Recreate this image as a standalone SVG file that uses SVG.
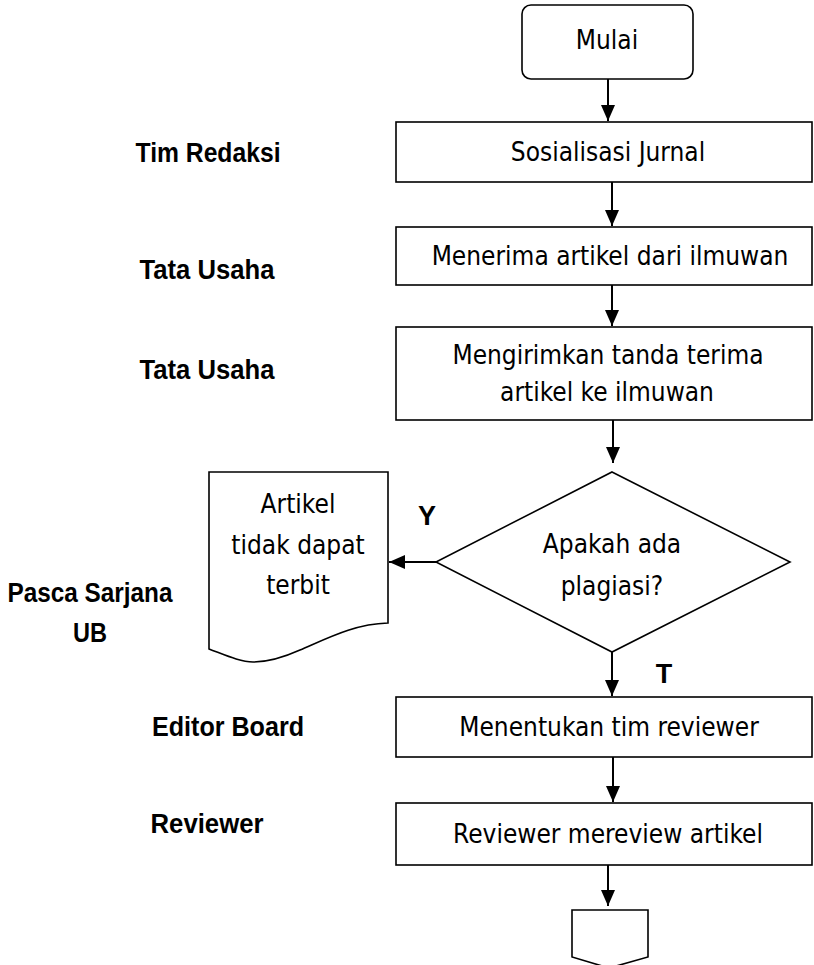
<svg xmlns="http://www.w3.org/2000/svg" width="814" height="965" viewBox="0 0 814 965">
<style>
.shape{fill:#fff;stroke:#000;stroke-width:1.6}
.conn{fill:none;stroke:#000;stroke-width:2}
.t{font-family:"DejaVu Sans Condensed","DejaVu Sans",sans-serif;font-stretch:condensed;font-size:26px;fill:#000;text-anchor:middle}
.lb{font-family:"Liberation Sans Narrow","Liberation Sans",Arial,sans-serif;font-size:27px;font-weight:bold;fill:#000;text-anchor:middle}
</style>
<defs>
<marker id="ah" markerUnits="userSpaceOnUse" markerWidth="16" markerHeight="14" refX="16" refY="7" orient="auto">
<path d="M0,0 L16,7 L0,14 z" fill="#000"/>
</marker>
</defs>
<rect width="814" height="965" fill="#fff"/>
<g id="connectors">
<line class="conn" x1="608" y1="79" x2="608" y2="121" marker-end="url(#ah)"/>
<line class="conn" x1="612" y1="182" x2="612" y2="226" marker-end="url(#ah)"/>
<line class="conn" x1="612" y1="285" x2="612" y2="326" marker-end="url(#ah)"/>
<line class="conn" x1="613" y1="420" x2="613" y2="463" marker-end="url(#ah)"/>
<line class="conn" x1="436" y1="562" x2="389" y2="562" marker-end="url(#ah)"/>
<line class="conn" x1="612" y1="652" x2="612" y2="696" marker-end="url(#ah)"/>
<line class="conn" x1="613" y1="757" x2="613" y2="802" marker-end="url(#ah)"/>
<line class="conn" x1="608" y1="865" x2="608" y2="906" marker-end="url(#ah)"/>
</g>
<g id="mulai">
<rect class="shape" x="522" y="5" width="171" height="74" rx="9"/>
<text class="t" x="607" y="49">Mulai</text>
</g>
<g id="sosialisasi">
<rect class="shape" x="396" y="122" width="416" height="60"/>
<text class="t" x="608" y="161">Sosialisasi Jurnal</text>
</g>
<g id="menerima">
<rect class="shape" x="396" y="227" width="416" height="58"/>
<text class="t" x="610" y="265">Menerima artikel dari ilmuwan</text>
</g>
<g id="mengirimkan">
<rect class="shape" x="396" y="327" width="416" height="93"/>
<text class="t" x="608" y="364">Mengirimkan tanda terima</text>
<text class="t" x="607" y="401">artikel ke ilmuwan</text>
</g>
<g id="plagiasi">
<polygon class="shape" points="612,472 790,562 612,652 436,562"/>
<text class="t" x="612" y="553">Apakah ada</text>
<text class="t" x="612" y="595">plagiasi?</text>
</g>
<g id="tidak-terbit">
<path class="shape" d="M209,472 H388 V623 C355,624 330,637 300,650 C280,659 265,662 253,662 C240,662 225,655 209,649 Z"/>
<text class="t" x="298" y="513">Artikel</text>
<text class="t" x="298" y="554">tidak dapat</text>
<text class="t" x="298" y="594">terbit</text>
</g>
<g id="menentukan">
<rect class="shape" x="396" y="697" width="416" height="60"/>
<text class="t" x="609" y="736">Menentukan tim reviewer</text>
</g>
<g id="mereview">
<rect class="shape" x="396" y="803" width="416" height="62"/>
<text class="t" x="608" y="843">Reviewer mereview artikel</text>
</g>
<g id="offpage">
<polygon class="shape" points="572,910 648,910 648,957 609,968 572,957"/>
</g>
<g id="labels">
<text class="lb" x="208" y="162" textLength="145" lengthAdjust="spacingAndGlyphs">Tim Redaksi</text>
<text class="lb" x="207" y="279" textLength="135" lengthAdjust="spacingAndGlyphs">Tata Usaha</text>
<text class="lb" x="207" y="379" textLength="135" lengthAdjust="spacingAndGlyphs">Tata Usaha</text>
<text class="lb" x="90" y="602" textLength="165" lengthAdjust="spacingAndGlyphs">Pasca Sarjana</text>
<text class="lb" x="90" y="642" textLength="34" lengthAdjust="spacingAndGlyphs">UB</text>
<text class="lb" x="228" y="736" textLength="152" lengthAdjust="spacingAndGlyphs">Editor Board</text>
<text class="lb" x="207" y="833" textLength="113" lengthAdjust="spacingAndGlyphs">Reviewer</text>
<text class="lb" x="427" y="525">Y</text>
<text class="lb" x="664" y="683">T</text>
</g>
</svg>
